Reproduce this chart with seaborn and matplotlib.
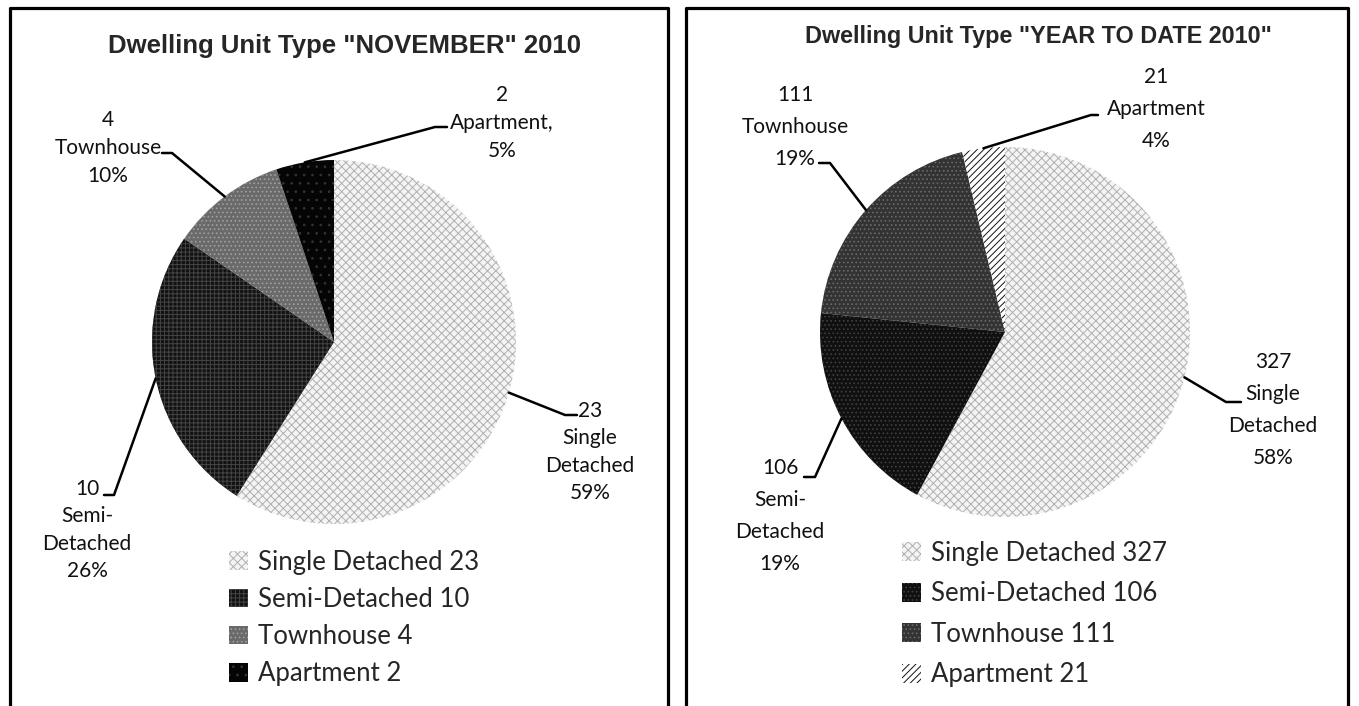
import matplotlib.pyplot as plt
import seaborn as sns
import numpy as np
from matplotlib.patches import Patch
from matplotlib.lines import Line2D

# data
categories = ['Single Detached', 'Semi-Detached', 'Townhouse', 'Apartment']
nov_values = [23, 10, 4, 2]
ytd_values = [327, 106, 111, 21]
nov_pct = ['59%', '26%', '10%', '5%']
ytd_pct = ['58%', '19%', '19%', '4%']
nov_names = ['Single\nDetached', 'Semi-\nDetached', 'Townhouse', 'Apartment,']
ytd_names = ['Single\nDetached', 'Semi-\nDetached', 'Townhouse', 'Apartment']
nov_title = 'Dwelling Unit Type "NOVEMBER" 2010'
ytd_title = 'Dwelling Unit Type "YEAR TO DATE 2010"'

sns.set_theme(style='white')
plt.rcParams['font.family'] = ['Lato', 'DejaVu Sans']
plt.rcParams['hatch.linewidth'] = 0.7

W, H = 1359, 706
fig = plt.figure(figsize=(W / 100, H / 100), dpi=100)
fig.patch.set_facecolor('white')


def fx(x, y):
    return x / W, 1 - y / H


# fill styles (face, hatch colour, hatch)
nov_styles = [('#f4f4f4', '#b0b0b0', 'xxxx'), ('#121212', '#444444', '++++'),
              ('#6a6a6a', '#a0a0a0', '....'), ('#050505', '#333333', '..')]
ytd_styles = [('#f4f4f4', '#b0b0b0', 'xxxx'), ('#101010', '#404040', '....'),
              ('#333333', '#6a6a6a', '....'), ('#ffffff', '#111111', '/////')]


def draw_panel(x0, x1, center, r, values, names, pct, styles, title, tsize, tpos,
               label_pos, lspace, leaders, leg_pos, leg_space):
    # panel border, open at the bottom
    fig.add_artist(Line2D([x0 / W, x0 / W, x1 / W, x1 / W],
                          [-0.05, 1 - 8 / H, 1 - 8 / H, -0.05],
                          transform=fig.transFigure, color='black', lw=2.3))
    fig.text(*fx(*tpos), title, ha='center', va='center', fontsize=tsize,
             fontweight='bold', family='Liberation Sans')

    cx, cy = center
    ax = fig.add_axes([(cx - r) / W, 1 - (cy + r) / H, 2 * r / W, 2 * r / H])
    wedges, _ = ax.pie(values, startangle=90, counterclock=False,
                       colors=[s[0] for s in styles],
                       wedgeprops=dict(linewidth=0),
                       shadow=dict(ox=2, oy=-4, shade=0.4))
    for w, s in zip(wedges, styles):
        w.set_edgecolor(s[1])
        w.set_hatch(s[2])
    ax.set_aspect('auto')
    ax.set_xlim(-1, 1)
    ax.set_ylim(-1, 1)
    ax.axis('off')

    inv = fig.transFigure.inverted()
    for w, v, n, p, lp, (elbow, end) in zip(wedges, values, names, pct,
                                            label_pos, leaders):
        mid = np.deg2rad((w.theta1 + w.theta2) / 2)
        ex, ey = inv.transform(ax.transData.transform((np.cos(mid), np.sin(mid))))
        e1 = fx(*elbow)
        e2 = fx(*end)
        fig.add_artist(Line2D([ex, e1[0], e2[0]], [ey, e1[1], e2[1]],
                              transform=fig.transFigure, color='black', lw=1.8))
        fig.text(*fx(*lp), f'{v}\n{n}\n{p}', ha='center', va='center',
                 fontsize=15, linespacing=lspace, color='#111111')

    handles = [Patch(facecolor=s[0], edgecolor=s[1], hatch=s[2], lw=0)
               for s in styles]
    labels = [f'{c} {v}' for c, v in zip(categories, values)]
    fig.legend(handles, labels, loc='upper left', bbox_to_anchor=fx(*leg_pos),
               frameon=False, fontsize=18.5, borderpad=0, handlelength=0.75,
               handleheight=0.75, handletextpad=0.4, labelspacing=leg_space)


draw_panel(10, 668, (334, 342), 182, nov_values, nov_names, nov_pct, nov_styles,
           nov_title, 18.5, (345, 46),
           [(590, 452), (87, 530), (108, 148), (502, 123)], 1.47,
           [((565, 415), (577, 415)), ((114, 495), (104, 495)),
            ((172, 153), (162, 153)), ((435, 127), (447, 127))],
           (216, 537), 0.47)

draw_panel(686, 1348, (1005, 332), 185, ytd_values, ytd_names, ytd_pct, ytd_styles,
           ytd_title, 16.8, (1038, 37),
           [(1273, 410), (780, 516), (795, 127), (1156, 109)], 1.75,
           [((1226, 402), (1241, 402)), ((815, 477), (804, 477)),
            ((830, 163), (819, 163)), ((1091, 115), (1098, 115))],
           (889, 528), 0.6)

fig.savefig('out.png', dpi=100)
